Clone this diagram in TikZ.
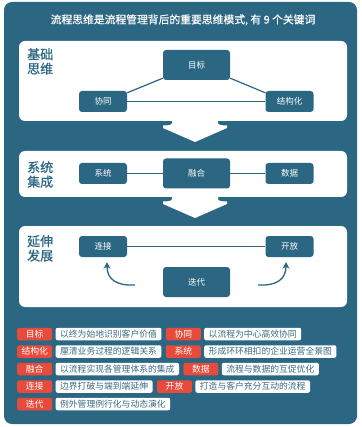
\documentclass[tikz,border=0pt]{standalone}
\usepackage{fontspec}
\setmainfont{Noto Sans CJK SC}
\newfontfamily\medfont[FakeBold=0.6]{Noto Sans CJK SC}
\usetikzlibrary{arrows.meta,calc}
\definecolor{teal1}{HTML}{2B6682}
\definecolor{red1}{HTML}{E84B3C}
\definecolor{txt1}{HTML}{3A6B82}
\begin{document}
\begin{tikzpicture}[x=1pt,y=-1pt,
  kw/.style={fill=teal1, rounded corners=3pt, text=white, font=\fontsize{8.5}{10}\selectfont, inner sep=0pt, minimum width=48pt, minimum height=21pt},
  kwbig/.style={kw, minimum width=67pt, minimum height=30pt},
  conn/.style={draw=teal1, line width=1.2pt},
  curv/.style={draw=teal1, line width=1.3pt, -{Stealth[length=6.5pt,width=7pt]}},
  panel/.style={fill=white, rounded corners=6pt},
  sect/.style={anchor=north west, align=left, text=teal1, inner sep=0pt, font=\medfont\fontsize{13}{14.5}\selectfont},
  tagr/.style={fill=red1, text=white, rounded corners=2pt, minimum width=35pt, minimum height=12.5pt, inner sep=0pt, anchor=west, font=\fontsize{8.8}{10}\selectfont},
  tagw/.style={fill=white, text=txt1, rounded corners=2pt, minimum height=12.5pt, inner xsep=4.5pt, inner ysep=0pt, anchor=west, font=\fontsize{8.8}{10}\selectfont}
]
\useasboundingbox (0,0) rectangle (361,427);
\fill[teal1, rounded corners=8pt] (4,2) rectangle (357,424);

\node[text=white, font=\medfont\fontsize{10.8}{12}\selectfont] (title) at (183,20) {流程思维是流程管理背后的重要思维模式, 有 9 个关键词};

% panels
\fill[panel] (19,41) rectangle (347,121);
\fill[white] (172,116) -- (172,123) .. controls (172,125) and (168,125.5) .. (163,125.5) -- (163,128) -- (195,142) -- (227,128) -- (227,125.5) .. controls (222,125.5) and (218,125) .. (218,123) -- (218,116) -- cycle;
\fill[panel] (19,151) rectangle (347,197);
\fill[white] (172,192) -- (172,199) .. controls (172,201) and (168,201.5) .. (163,201.5) -- (163,204) -- (195,218) -- (227,204) -- (227,201.5) .. controls (222,201.5) and (218,201) .. (218,199) -- (218,192) -- cycle;
\fill[panel] (19,226) rectangle (347,307);

% section labels
\node[sect] (s1) at (27,48) {基础\\思维};
\node[sect] (s2) at (27,161) {系统\\集成};
\node[sect] (s3) at (27,235) {延伸\\发展};

% panel 1
\node[kwbig] (mb) at (196.5,65) {目标};
\node[kw] (xt) at (103,101.5) {协同};
\node[kw] (jg) at (289.5,101.5) {结构化};
\draw[conn] ([yshift=2pt]mb.south west) -- ([yshift=-2pt]xt.north east);
\draw[conn] ([yshift=2pt]mb.south east) -- ([yshift=-2pt]jg.north west);
\draw[conn] (xt.east) -- (jg.west);

% panel 2
\node[kw] (xtg) at (103,173.5) {系统};
\node[kwbig] (rh) at (196.5,173.5) {融合};
\node[kw] (sj) at (289.5,173.5) {数据};
\draw[conn] (xtg.east) -- (rh.west);
\draw[conn] (rh.east) -- (sj.west);

% panel 3
\node[kw] (lj) at (103,246.5) {连接};
\node[kw] (kf) at (289.5,246.5) {开放};
\node[kwbig] (dd) at (196.5,282) {迭代};
\draw[conn] (lj.east) -- (kf.west);
\coordinate (la0) at (135,285);
\coordinate (ra0) at (258,285);
\draw[curv] (la0) .. controls (116,286) and (107,279) .. ([xshift=4pt,yshift=-5pt]lj.south);
\draw[curv] (ra0) .. controls (277,286) and (286,279) .. ([xshift=-3.5pt,yshift=-5pt]kf.south);

% legend
\node[tagr] (r1a) at (17,334) {目标};
\node[tagw] (w1a) at ([xshift=3pt]r1a.east) {以终为始地识别客户价值};
\node[tagr] (r1b) at ([xshift=4pt]w1a.east) {协同};
\node[tagw] (w1b) at ([xshift=3pt]r1b.east) {以流程为中心高效协同};

\node[tagr] (r2a) at (17,351.5) {结构化};
\node[tagw] (w2a) at ([xshift=3pt]r2a.east) {厘清业务过程的逻辑关系};
\node[tagr] (r2b) at ([xshift=4pt]w2a.east) {系统};
\node[tagw] (w2b) at ([xshift=3pt]r2b.east) {形成环环相扣的企业运营全景图};

\node[tagr] (r3a) at (17,369) {融合};
\node[tagw] (w3a) at ([xshift=3pt]r3a.east) {以流程实现各管理体系的集成};
\node[tagr] (r3b) at ([xshift=4pt]w3a.east) {数据};
\node[tagw] (w3b) at ([xshift=3pt]r3b.east) {流程与数据的互促优化};

\node[tagr] (r4a) at (17,386.5) {连接};
\node[tagw] (w4a) at ([xshift=3pt]r4a.east) {边界打破与端到端延伸};
\node[tagr] (r4b) at ([xshift=4pt]w4a.east) {开放};
\node[tagw] (w4b) at ([xshift=3pt]r4b.east) {打造与客户充分互动的流程};

\node[tagr] (r5a) at (17,404) {迭代};
\node[tagw] (w5a) at ([xshift=3pt]r5a.east) {例外管理例行化与动态演化};
\end{tikzpicture}
\end{document}
